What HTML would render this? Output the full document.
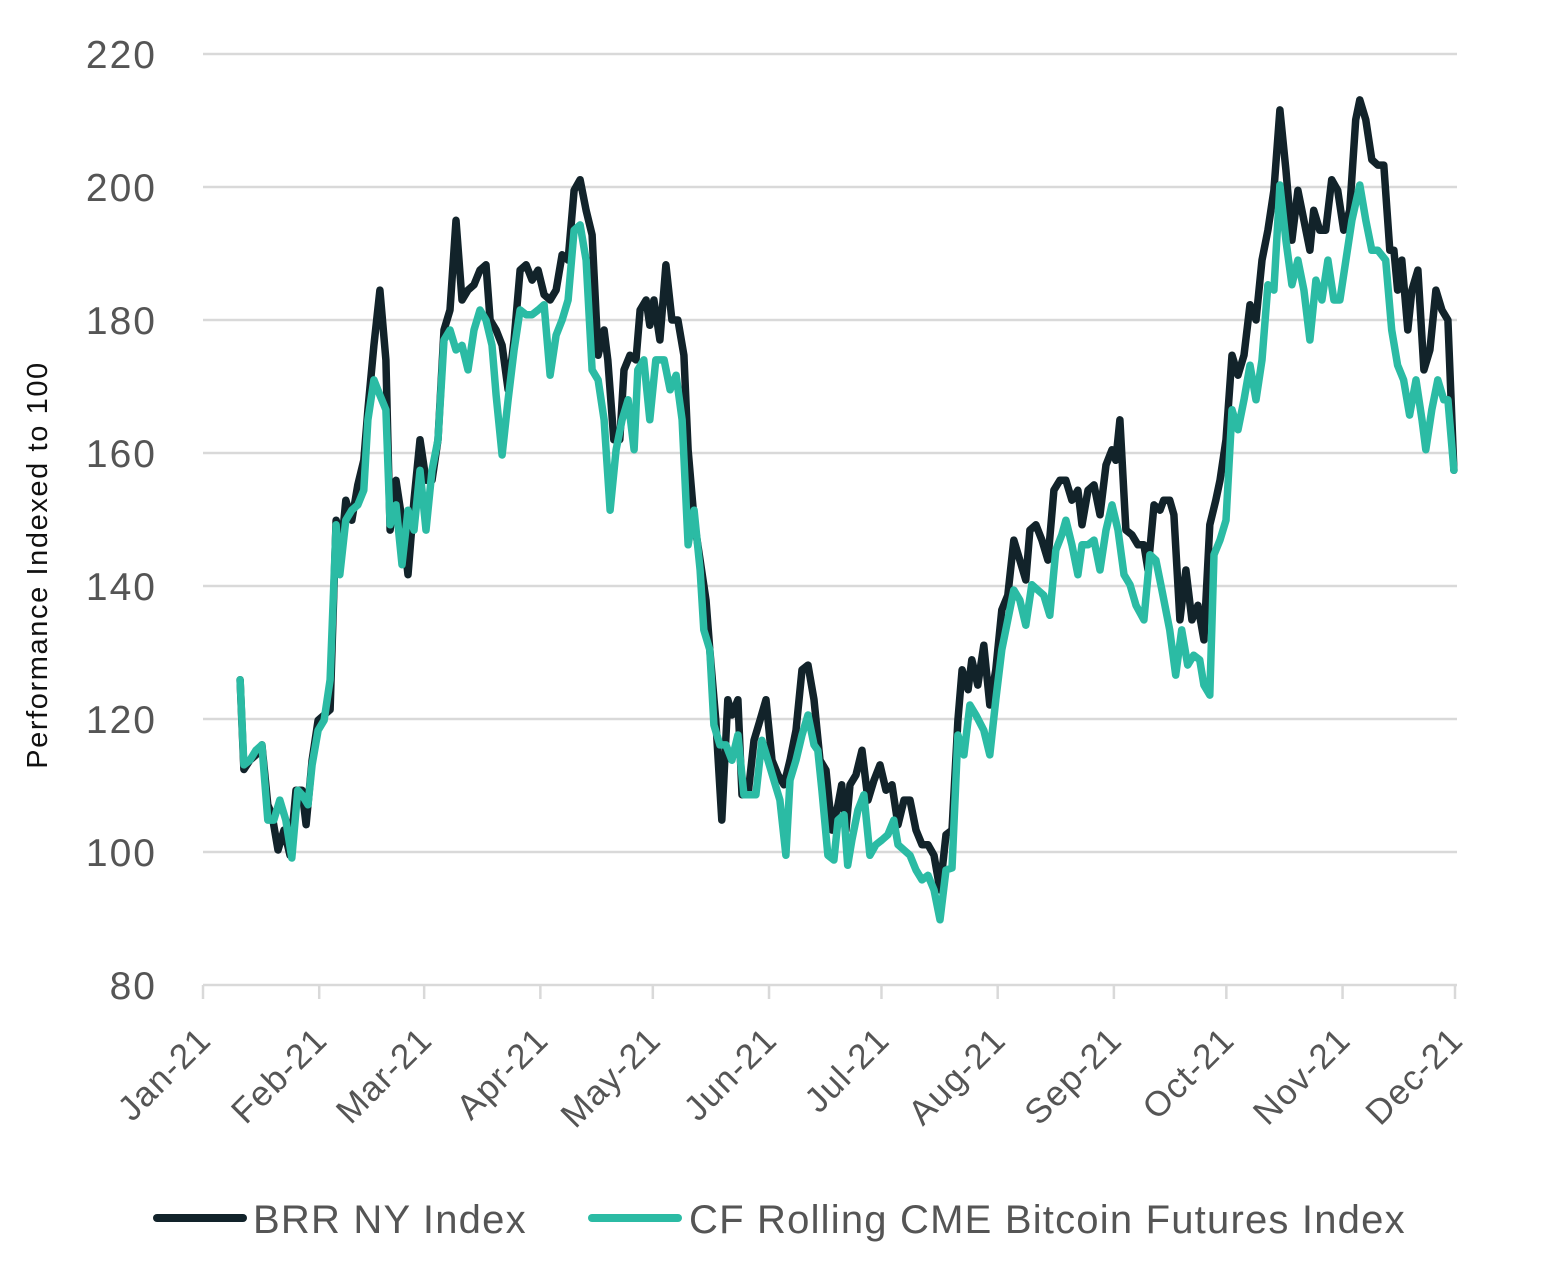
<!DOCTYPE html>
<html><head><meta charset="utf-8"><style>
html,body{margin:0;padding:0;background:#fff;}
svg{display:block;font-family:"Liberation Sans",sans-serif;}
</style></head><body>
<svg id="chart" width="1544" height="1287" viewBox="0 0 1544 1287" xmlns="http://www.w3.org/2000/svg">
<g id="grid"></g>
<g id="yticks"></g>
<g id="xticks"></g>
<text transform="translate(47,565) rotate(-90)" text-anchor="middle" font-size="29" letter-spacing="1.6" fill="#111">Performance Indexed to 100</text>
<g id="series"></g>
<g>
<line x1="157" y1="1218" x2="243" y2="1218" stroke="#12232a" stroke-width="8" stroke-linecap="round"/>
<text x="253" y="1233" font-size="40" letter-spacing="1.2" fill="#555">BRR NY Index</text>
<line x1="592" y1="1218" x2="678" y2="1218" stroke="#2bbba4" stroke-width="8" stroke-linecap="round"/>
<text x="689" y="1233" font-size="40" letter-spacing="1.2" fill="#555">CF Rolling CME Bitcoin Futures Index</text>
</g>
</svg>
<script>
const yTicks=[80,100,120,140,160,180,200,220];
const monthLabels=["Jan-21","Feb-21","Mar-21","Apr-21","May-21","Jun-21","Jul-21","Aug-21","Sep-21","Oct-21","Nov-21","Dec-21"];
const monthDays=[0,31,59,90,120,151,181,212,243,273,304,334];
const brrDays=[9.9,10.9,12.5,14.1,15.7,17.3,18.4,20.0,21.6,23.2,24.8,26.4,27.5,29.1,30.7,32.3,33.9,35.5,37.1,38.1,39.7,41.3,42.9,44.0,45.6,47.2,48.8,49.9,51.5,53.1,54.7,56.3,57.9,59.5,61.1,62.7,64.3,65.9,67.5,69.1,70.7,72.3,73.9,75.5,76.6,78.2,79.8,81.4,83.0,84.6,86.2,87.8,89.4,91.0,92.6,94.2,95.8,97.4,99.0,100.6,102.2,103.8,105.4,107.0,108.0,109.6,111.2,112.3,113.9,115.5,116.6,118.2,119.2,120.3,121.9,123.5,125.1,126.7,128.3,129.4,131.0,132.6,134.2,135.2,136.8,138.4,140.0,141.1,142.7,143.8,145.4,147.0,148.6,150.2,151.8,153.4,155.0,156.6,158.2,159.8,161.4,163.0,164.6,166.2,167.8,169.4,170.4,171.5,172.6,174.2,175.8,177.4,179.0,180.6,182.2,183.8,185.4,187.0,188.6,190.2,191.8,193.4,195.0,196.6,198.2,199.8,201.4,202.5,204.1,205.1,206.7,208.3,209.9,211.5,213.1,214.7,216.3,217.9,219.5,220.6,222.2,223.8,225.4,227.0,228.6,230.2,231.8,233.4,234.5,236.1,237.7,239.3,240.9,242.5,243.5,244.6,246.2,247.8,249.4,251.0,252.1,253.7,255.3,256.3,257.9,259.0,260.6,262.2,263.8,265.4,267.0,268.6,270.2,271.3,272.9,274.5,276.1,277.7,279.3,280.9,282.5,284.1,285.7,287.3,288.9,290.5,292.1,293.7,295.3,296.3,297.9,299.5,301.1,302.7,304.3,305.9,307.5,308.6,310.2,311.8,313.4,315.0,316.6,317.7,318.7,319.8,321.4,322.5,324.1,325.7,327.3,328.9,330.5,332.1,333.7];
const brrValues=[125.9,112.4,113.8,114.6,116.1,107.1,105.6,100.3,103.3,99.5,109.3,109.3,104.1,113.8,119.8,120.6,121.4,149.9,146.9,152.9,149.9,155.2,158.9,166.5,176.2,184.5,174.0,148.4,155.9,149.9,141.7,152.9,162.0,155.9,155.9,162.0,178.5,181.5,195.0,183.0,184.5,185.3,187.5,188.3,180.0,178.5,176.2,169.5,177.0,187.5,188.3,186.0,187.5,183.8,183.0,184.5,189.8,189.0,199.5,201.1,196.5,192.8,174.7,178.5,174.0,162.0,162.0,172.5,174.7,174.0,181.5,183.0,179.2,183.0,177.0,188.3,180.0,180.0,174.7,160.5,149.9,143.9,137.9,130.4,119.8,104.8,122.9,120.6,122.9,108.6,108.6,116.8,119.8,122.9,113.8,111.6,110.1,113.8,118.3,127.4,128.1,122.9,113.8,112.3,103.3,107.1,110.1,103.3,110.1,111.6,115.3,107.8,110.8,113.1,109.3,110.1,104.1,107.8,107.8,103.3,101.1,101.1,99.5,94.3,102.6,103.3,119.8,127.4,124.4,128.9,125.1,131.1,122.1,127.4,136.4,138.6,146.9,143.9,140.9,148.4,149.2,146.9,143.9,154.4,155.9,155.9,152.9,154.4,149.2,154.4,155.2,150.7,158.2,160.5,158.9,165.0,148.4,147.7,146.2,146.2,142.4,152.2,151.4,152.9,152.9,150.7,134.9,142.4,134.9,137.1,131.9,149.2,152.9,155.9,162.0,174.7,171.7,174.7,182.3,180.0,189.0,193.5,199.5,211.6,202.6,192.0,199.5,195.0,190.5,196.5,193.5,193.5,201.1,199.5,193.5,196.5,210.1,213.1,210.1,204.1,203.3,203.3,190.5,190.5,184.5,189.0,178.5,184.5,187.5,172.5,175.5,184.5,181.5,180.0,157.4];
const cfDays=[9.9,10.9,12.5,14.1,15.7,17.3,18.9,20.5,22.1,23.7,25.3,26.4,28.0,29.1,30.7,32.3,33.9,35.5,36.5,38.1,39.7,41.3,42.9,44.0,45.6,47.2,48.8,49.9,51.5,53.1,54.7,56.3,57.9,59.5,61.1,62.7,64.3,65.9,67.5,69.1,70.7,72.3,73.9,75.5,77.1,78.2,79.8,81.4,83.0,84.6,86.2,87.8,89.4,91.0,92.6,94.2,95.8,97.4,99.0,100.6,102.2,103.8,105.4,107.0,108.6,110.2,111.8,113.4,115.0,116.0,117.6,119.2,120.8,123.0,124.6,126.2,127.8,129.4,131.0,132.6,133.6,135.2,136.3,137.9,139.5,141.1,142.7,144.3,145.9,147.5,149.1,150.7,152.3,153.9,155.5,156.6,158.2,159.8,161.4,163.0,164.0,165.1,166.7,168.3,169.4,171.0,172.0,173.1,174.7,176.3,177.9,179.5,181.1,182.7,184.3,185.4,187.0,188.6,190.2,191.8,193.4,195.0,196.6,198.2,199.8,201.4,203.0,204.6,206.2,208.3,209.9,211.5,213.1,214.7,216.3,217.9,219.5,221.1,222.7,224.3,225.9,227.5,229.1,230.2,231.8,233.4,234.5,236.1,237.7,239.3,240.9,242.5,244.1,245.7,247.3,248.9,251.0,252.6,254.2,255.8,257.9,259.5,261.1,262.7,264.3,265.9,267.0,268.6,269.7,271.3,272.9,274.5,276.1,277.7,279.3,280.9,282.5,284.1,285.7,287.3,288.9,290.5,292.1,293.7,295.3,296.9,298.5,300.1,301.7,303.3,304.9,306.5,308.6,310.2,311.8,313.4,315.5,317.1,318.7,320.3,321.9,323.6,325.2,326.2,327.8,329.4,331.0,332.1,333.7];
const cfValues=[125.9,113.1,113.8,115.3,116.1,104.8,104.8,107.8,104.8,99.1,109.3,108.6,107.1,113.1,118.3,119.8,125.9,149.2,141.7,149.9,151.4,152.2,154.4,165.0,171.0,168.7,166.5,149.2,152.2,143.2,151.4,148.4,157.4,148.4,157.4,162.0,177.0,178.5,175.5,176.2,172.5,178.5,181.5,180.0,176.2,168.7,159.7,168.0,175.5,181.5,180.8,180.8,181.5,182.3,171.7,177.7,180.0,183.0,193.5,194.3,189.0,172.5,171.0,165.0,151.4,160.5,165.0,168.0,160.5,172.5,174.0,165.0,174.0,174.0,169.5,171.7,165.0,146.2,151.4,142.4,133.4,130.4,119.1,116.1,116.1,113.8,117.6,108.6,108.6,108.6,116.8,113.8,110.8,107.8,99.5,110.8,113.8,117.6,120.6,116.1,115.3,109.3,99.5,98.8,104.8,105.6,98.0,101.8,106.3,108.6,99.5,101.1,101.8,102.6,104.8,101.1,100.3,99.5,97.3,95.8,96.5,94.3,89.8,97.3,97.6,117.6,114.6,122.1,120.6,118.3,114.6,122.9,130.4,134.9,139.4,137.9,134.1,140.2,139.4,138.6,135.6,145.4,147.7,149.9,146.2,141.7,146.2,146.2,146.9,142.4,148.4,152.2,148.4,141.7,140.2,137.1,134.9,144.7,143.9,139.4,133.4,126.6,133.4,128.1,129.6,128.9,125.1,123.6,144.7,146.9,149.9,166.5,163.5,168.0,173.2,168.0,174.0,185.3,184.5,200.3,192.0,185.3,189.0,184.5,177.0,186.0,183.0,189.0,183.0,183.0,189.0,195.0,200.3,195.0,190.5,190.5,189.0,178.5,173.2,171.0,165.7,171.0,165.0,160.5,166.5,171.0,168.0,168.0,157.4];

const NS="http://www.w3.org/2000/svg";
const X0=203,X1=1455,Y0=985,Y1=54;
function xScale(d){return X0+(d-0)/(334-0)*(X1-X0);}
function yScale(v){return Y0-(v-80)/(220-80)*(Y0-Y1);}
function mk(tag,attrs,parent){const e=document.createElementNS(NS,tag);for(const k in attrs)e.setAttribute(k,attrs[k]);parent.appendChild(e);return e;}

const grid=document.getElementById('grid');
const yt=document.getElementById('yticks');
yTicks.forEach(v=>{
  const l=mk('line',{x1:X0,x2:1457,y1:yScale(v),y2:yScale(v),stroke:'#d9d9d9','stroke-width':2.5},grid);
  
  
  const t=mk('text',{x:157,y:yScale(v)+14,'text-anchor':'end','font-size':39,'letter-spacing':2,fill:'#555'},yt);
  
  
  t.textContent=v;
});
const xt=document.getElementById('xticks');
monthDays.forEach((d,i)=>{
  const x=xScale(d);
  const l=mk('line',{x1:x,x2:x,y1:Y0,y2:999,stroke:'#d9d9d9','stroke-width':2.5},xt);
  
  
  const t=mk('text',{transform:'translate('+(x+10)+',1042) rotate(-45)','text-anchor':'end','font-size':35,'letter-spacing':1.2,fill:'#555'},xt);
  
  
  t.textContent=monthLabels[i];
});
const sg=document.getElementById('series');
function line(days,vals,color,name){
  const d=days.map((dd,i)=>(i?'L':'M')+xScale(dd).toFixed(1)+','+yScale(vals[i]).toFixed(1)).join(' ');
  const p=mk('path',{d:d,fill:'none',stroke:color,'stroke-width':7.5,'stroke-linejoin':'round','stroke-linecap':'round'},sg);
  
  
}
line(brrDays,brrValues,'#12232a','brr-ny-index-line');
line(cfDays,cfValues,'#2bbba4','cf-rolling-cme-line');
</script>
</body></html>
